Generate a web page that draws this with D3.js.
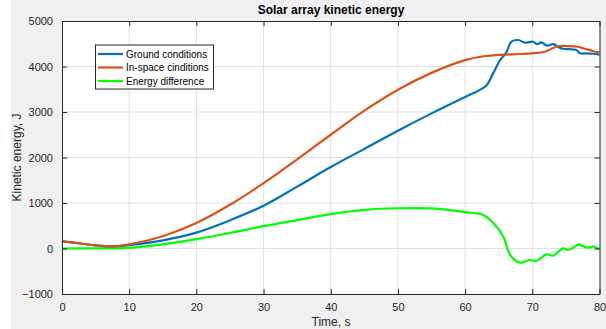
<!DOCTYPE html>
<html>
<head>
<meta charset="utf-8">
<script src="https://cdn.jsdelivr.net/npm/d3@7"></script>
<style>
  body { margin: 0; background: #fff; }
  svg { display: block; font-family: "Liberation Sans", Arial, sans-serif; }
</style>
</head>
<body>
<div id="chart"></div>
<script>
// Data
let groundT = [0, 3, 5, 7.5, 10, 15, 20, 25, 30, 35, 40, 45, 50, 55, 60, 62, 63.2, 64.2, 65.2, 66.1, 66.9, 67.9, 68.9, 70.1, 70.7, 71.4, 72.1, 73.1, 74, 74.6, 75.5, 76.6, 77.1, 78.1, 79, 80];
let groundE = [160, 105, 70, 45, 75, 180, 350, 620, 940, 1360, 1790, 2190, 2590, 2970, 3330, 3470, 3590, 3860, 4140, 4300, 4545, 4582, 4523, 4545, 4490, 4530, 4460, 4490, 4420, 4390, 4380, 4360, 4290, 4290, 4280, 4260];

let spaceT = [0, 3, 5, 7.5, 10, 15, 20, 25, 30, 35, 40, 45, 50, 55, 60, 63, 65, 68, 70, 72, 73, 74, 75, 76.6, 77.6, 79, 80];
let spaceE = [160, 105, 70, 45, 90, 270, 560, 960, 1435, 1960, 2500, 3030, 3490, 3860, 4140, 4230, 4255, 4275, 4290, 4330, 4400, 4450, 4450, 4440, 4400, 4340, 4310];

let diffT = [0, 5, 10, 15, 20, 25, 30, 35, 40, 45, 50, 55, 60, 62.7, 64.2, 65.7, 66.7, 68.2, 69.6, 70.6, 72.1, 73.1, 74.6, 75.3, 76.1, 76.9, 78.1, 79.1, 80];
let diffE = [0, 2, 12, 90, 205, 340, 490, 625, 755, 850, 885, 880, 800, 736, 554, 260, -143, -312, -253, -275, -128, -157, 4, -33, 18, 92, 18, 40, -11];

let xTicks = [0, 10, 20, 30, 40, 50, 60, 70, 80];
let yTicks = [-1000, 0, 1000, 2000, 3000, 4000, 5000];

let seriesNames = ["Ground conditions", "In-space cinditions", "Energy difference"];
let seriesColors = ["#0072BD", "#D95319", "#00FF00"];

function BuildGraph(){
  let width = 606, height = 329;
  let left = 62, right = 599.5, top = 21, bottom = 294;
  let axisColor = "#262626";

  let svg = d3.select('#chart').append('svg')
    .attr('width', width).attr('height', height);

  // figure background
  svg.append('rect').attr('x', 11).attr('y', 0)
    .attr('width', width - 11).attr('height', height).attr('fill', '#f0f0f0');
  svg.append('rect').attr('x', left).attr('y', top)
    .attr('width', right - left).attr('height', bottom - top).attr('fill', '#fff');

  let x = d3.scaleLinear().domain([0, 80]).range([left, right]);
  let y = d3.scaleLinear().domain([-1000, 5000]).range([bottom, top]);

  // grid
  svg.append('g').selectAll('line').data(xTicks.slice(1, -1)).enter().append('line')
    .attr('x1', d => x(d)).attr('x2', d => x(d)).attr('y1', top).attr('y2', bottom)
    .attr('stroke', '#dfdfdf').attr('stroke-width', 1);
  svg.append('g').selectAll('line').data(yTicks.slice(1, -1)).enter().append('line')
    .attr('y1', d => y(d)).attr('y2', d => y(d)).attr('x1', left).attr('x2', right)
    .attr('stroke', '#dfdfdf').attr('stroke-width', 1);

  // lines
  let sets = [[groundT, groundE], [spaceT, spaceE], [diffT, diffE]];
  let line = d3.line().x(d => x(d[0])).y(d => y(d[1])).curve(d3.curveCatmullRom.alpha(0.5));
  [2, 0, 1].forEach(i => {
    let pts = sets[i][0].map((t, k) => [t, sets[i][1][k]]);
    svg.append('path').datum(pts)
      .attr('d', line)
      .attr('fill', 'none')
      .attr('stroke', seriesColors[i])
      .attr('stroke-width', 2.2)
      .attr('stroke-linejoin', 'round');
  });

  // axes (ticks inward, box on)
  let fmt = d3.format('d');
  svg.append('g').attr('transform', 'translate(0,' + bottom + ')')
    .call(d3.axisBottom(x).tickValues(xTicks).tickSizeInner(-5).tickSizeOuter(0).tickPadding(9).tickFormat(fmt));
  svg.append('g').attr('transform', 'translate(0,' + top + ')')
    .call(d3.axisTop(x).tickValues(xTicks).tickSizeInner(-5).tickSizeOuter(0).tickFormat(''));
  svg.append('g').attr('transform', 'translate(' + left + ',0)')
    .call(d3.axisLeft(y).tickValues(yTicks).tickSizeInner(-5).tickSizeOuter(0).tickPadding(9).tickFormat(fmt));
  svg.append('g').attr('transform', 'translate(' + right + ',0)')
    .call(d3.axisRight(y).tickValues(yTicks).tickSizeInner(-5).tickSizeOuter(0).tickFormat(''));
  svg.selectAll('.domain').attr('stroke', axisColor);
  svg.selectAll('.tick line').attr('stroke', axisColor);
  svg.selectAll('.tick text').attr('fill', axisColor).style('font-size', '11px');

  // title and axis labels
  svg.append('text')
    .attr('x', 331).attr('y', 14)
    .attr('text-anchor', 'middle')
    .style('font-size', '12px').style('font-weight', 'bold')
    .attr('fill', '#000')
    .text('Solar array kinetic energy');
  svg.append('text')
    .attr('x', 331).attr('y', 326)
    .attr('text-anchor', 'middle')
    .style('font-size', '12px').attr('fill', axisColor)
    .text('Time, s');
  svg.append('text')
    .attr('transform', 'translate(21,' + ((top + bottom) / 2) + ')rotate(-90)')
    .attr('text-anchor', 'middle')
    .style('font-size', '12px').attr('fill', axisColor)
    .text('Kinetic energy, J');

  // legend
  let legend = svg.append('g').attr('id', 'legend');
  legend.append('rect')
    .attr('x', 95.5).attr('y', 45).attr('width', 118).attr('height', 44)
    .attr('fill', '#fff').attr('stroke', axisColor).attr('stroke-width', 1);
  seriesNames.forEach((name, i) => {
    let ly = 54 + i * 13.5;
    legend.append('line')
      .attr('x1', 98).attr('x2', 123).attr('y1', ly).attr('y2', ly)
      .attr('stroke', seriesColors[i]).attr('stroke-width', 2.2);
    legend.append('text')
      .attr('x', 126).attr('y', ly + 3.5)
      .style('font-size', '10px').attr('fill', '#000')
      .text(name);
  });
}

BuildGraph();
</script>
</body>
</html>
